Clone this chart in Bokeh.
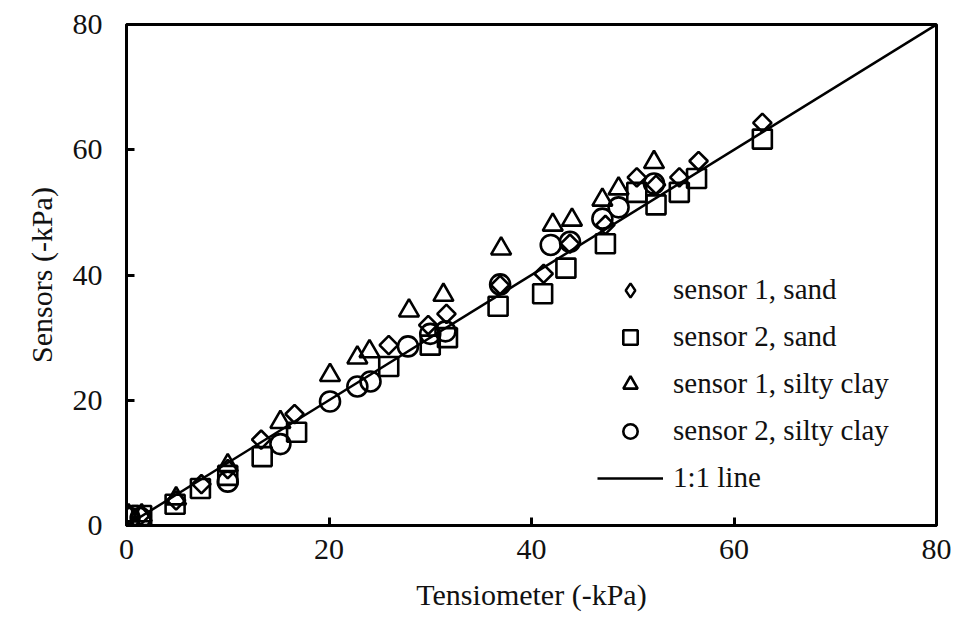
import math
from bokeh.plotting import figure
from bokeh.models import Legend, LegendItem, FixedTicker, Range1d
from bokeh.embed import file_html
from bokeh.resources import INLINE

# ---- data ----
s1_sand_x = [0.3, 1.4, 4.9, 7.4, 10.0, 13.3, 16.6, 25.9, 29.8, 31.6, 36.9, 41.2, 43.8, 47.3, 50.4, 52.3, 54.6, 56.5, 62.8]
s1_sand_y = [1.6, 1.6, 4.0, 6.6, 9.0, 13.7, 17.8, 28.8, 32.0, 33.8, 38.4, 40.2, 45.0, 48.0, 55.6, 54.4, 55.6, 58.2, 64.3]

s2_sand_x = [0.2, 1.5, 4.8, 7.3, 10.0, 13.4, 16.8, 25.9, 30.0, 31.7, 36.7, 41.1, 43.4, 47.3, 50.4, 52.3, 54.6, 56.3, 62.8]
s2_sand_y = [1.6, 1.6, 3.4, 5.9, 8.0, 11.0, 14.9, 25.4, 28.8, 30.0, 35.0, 37.0, 41.1, 45.0, 53.2, 51.2, 53.2, 55.4, 61.7]

s1_clay_x = [0.2, 1.5, 4.9, 10.0, 15.2, 20.1, 22.8, 24.0, 27.9, 31.3, 37.0, 42.1, 44.0, 47.0, 48.6, 52.1]
s1_clay_y = [1.6, 1.6, 4.3, 9.6, 16.5, 24.0, 26.8, 27.8, 34.3, 36.8, 44.2, 48.0, 48.8, 52.0, 53.8, 58.0]

s2_clay_x = [0.3, 1.4, 10.0, 15.2, 20.1, 22.8, 24.1, 27.8, 30.0, 31.5, 36.9, 41.9, 43.8, 47.0, 48.6, 52.1]
s2_clay_y = [1.2, 1.2, 7.0, 13.0, 19.8, 22.2, 23.0, 28.6, 30.6, 31.0, 38.5, 44.8, 45.3, 49.0, 50.8, 54.6]

line_x = [0, 80]
line_y = [0, 80]

ticks = [0, 20, 40, 60, 80]
labels = ["sensor 1, sand", "sensor 2, sand", "sensor 1, silty clay", "sensor 2, silty clay", "1:1 line"]

FONT = "Times New Roman"

p = figure(width=956, height=636, x_range=(0, 80), y_range=(0, 80),
           output_backend="svg", toolbar_location=None,
           min_border_left=126, min_border_right=20, min_border_top=24, min_border_bottom=111)

# an off-screen range used only for the legend's diamond proxy
p.extra_y_ranges = {"proxy": Range1d(1000, 1001)}

p.xgrid.visible = False
p.ygrid.visible = False
p.outline_line_color = "black"
p.outline_line_width = 3
p.background_fill_color = "white"
p.border_fill_color = "white"

for ax in (p.xaxis[0], p.yaxis[0]):
    ax.ticker = FixedTicker(ticks=ticks)
    ax.major_tick_in = 8
    ax.major_tick_out = 0
    ax.minor_tick_in = 0
    ax.minor_tick_out = 0
    ax.axis_line_color = "black"
    ax.axis_line_width = 3
    ax.major_tick_line_width = 3
    ax.major_label_text_font = FONT
    ax.major_label_text_font_size = "30px"
    ax.major_label_text_color = "#111111"
    ax.axis_label_text_font = FONT
    ax.axis_label_text_font_size = "30px"
    ax.axis_label_text_font_style = "normal"
    ax.axis_label_text_color = "#111111"

p.xaxis.axis_label = "Tensiometer (-kPa)"
p.yaxis.axis_label = "Sensors (-kPa)"
p.xaxis.major_label_standoff = 14
p.yaxis.major_label_standoff = 24
p.xaxis.axis_label_standoff = 16
p.yaxis.axis_label_standoff = 12

r_line = p.line(line_x, line_y, line_color="black", line_width=2.5)

common = dict(fill_alpha=0, line_color="black", line_width=2.6)
r1 = p.scatter(s1_sand_x, s1_sand_y, marker="square", angle=math.pi / 4, size=13, **common)
r2 = p.scatter(s2_sand_x, s2_sand_y, marker="square", size=19, **common)
r3 = p.scatter(s1_clay_x, s1_clay_y, marker="triangle", size=20, **common)
r4 = p.scatter(s2_clay_x, s2_clay_y, marker="circle", size=20, **common)

# legend-only diamond (legend glyphs ignore marker angle); plotted on the off-screen range
r1_leg = p.scatter(s1_sand_x, s1_sand_y, y_range_name="proxy",
                   marker="diamond", size=13, fill_alpha=0, line_color="black", line_width=2.4)

legend = Legend(items=[
    LegendItem(label=labels[0], renderers=[r1_leg]),
    LegendItem(label=labels[1], renderers=[r2]),
    LegendItem(label=labels[2], renderers=[r3]),
    LegendItem(label=labels[3], renderers=[r4]),
    LegendItem(label=labels[4], renderers=[r_line]),
], location=(471, 24))
legend.glyph_width = 66
legend.glyph_height = 36
legend.label_height = 47
legend.spacing = 0
legend.padding = 0
legend.margin = 0
legend.label_standoff = 10
legend.border_line_color = None
legend.background_fill_alpha = 0
legend.label_text_font = FONT
legend.label_text_font_size = "29px"
legend.label_text_color = "#111111"
p.add_layout(legend)

open("out.html", "w").write(file_html(p, INLINE))
